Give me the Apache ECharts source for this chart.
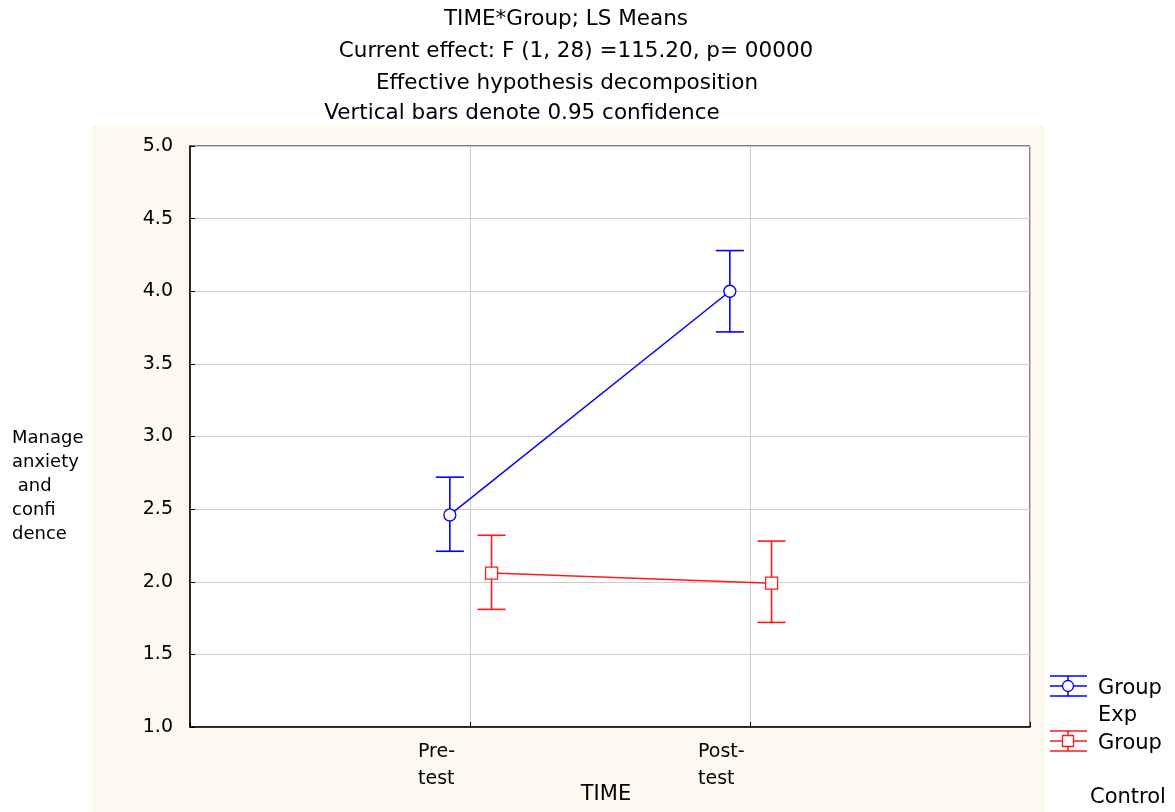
<!DOCTYPE html>
<html>
<head>
<meta charset="utf-8">
<script src="https://cdn.jsdelivr.net/npm/echarts@6/dist/echarts.min.js"></script>
<style>
  html, body { margin: 0; padding: 0; background: #fff; }
  #chart { width: 1175px; height: 812px; }
</style>
</head>
<body>
<div id="chart"></div>
<script>
// time points on the x axis (positions 1 and 2)
var categories = ['Pre-\ntest', 'Post-\ntest'];
var yTicks = [1.0, 1.5, 2.0, 2.5, 3.0, 3.5, 4.0, 4.5, 5.0];

// LS means and 0.95 confidence limits
var expMeans = [2.46, 4.00];
var expLow = [2.21, 3.72];
var expHigh = [2.72, 4.28];

var ctrlMeans = [2.06, 1.99];
var ctrlLow = [1.81, 1.72];
var ctrlHigh = [2.32, 2.28];

var font = '"DejaVu Sans", Verdana, sans-serif';
var BLUE = '#0000ff', RED = '#ff1a1a';
var EXP_SHIFT = -0.072, CTRL_SHIFT = 0.077;

function points(means, shift) {
    var out = [];
    for (var i = 0; i < means.length; i++) out.push([i + 1 + shift, means[i]]);
    return out;
}
function bars(low, high, shift) {
    var out = [];
    for (var i = 0; i < low.length; i++) out.push([i + 1 + shift, low[i], high[i]]);
    return out;
}

function errorBar(color) {
    return function (params, api) {
        var x = api.value(0);
        var lo = api.coord([x, api.value(1)]);
        var hi = api.coord([x, api.value(2)]);
        var half = 14;
        var style = { stroke: color, lineWidth: 1.6 };
        return {
            type: 'group',
            children: [
                { type: 'line', shape: { x1: lo[0], y1: lo[1], x2: hi[0], y2: hi[1] }, style: style },
                { type: 'line', shape: { x1: lo[0] - half, y1: lo[1], x2: lo[0] + half, y2: lo[1] }, style: style },
                { type: 'line', shape: { x1: hi[0] - half, y1: hi[1], x2: hi[0] + half, y2: hi[1] }, style: style }
            ]
        };
    };
}

function legendIcon(y, color, isCircle) {
    var st = { stroke: color, lineWidth: 1.5 };
    var kids = [
        { type: 'line', shape: { x1: 1050, y1: y - 10, x2: 1087, y2: y - 10 }, style: st },
        { type: 'line', shape: { x1: 1050, y1: y, x2: 1087, y2: y }, style: st },
        { type: 'line', shape: { x1: 1050, y1: y + 10, x2: 1087, y2: y + 10 }, style: st },
        { type: 'line', shape: { x1: 1068, y1: y - 10, x2: 1068, y2: y + 10 }, style: st }
    ];
    if (isCircle) {
        kids.push({ type: 'circle', shape: { cx: 1068, cy: y, r: 5.5 }, style: { fill: '#fff', stroke: color, lineWidth: 1.3 } });
    } else {
        kids.push({ type: 'rect', shape: { x: 1062.5, y: y - 5.5, width: 11, height: 11 }, style: { fill: '#fff', stroke: color, lineWidth: 1.3 } });
    }
    return { type: 'group', children: kids };
}

function txt(x, y, s, size, align) {
    return { type: 'text', x: x, y: y, style: { text: s, font: size + 'px ' + font, fill: '#000', align: align || 'left', verticalAlign: 'middle' } };
}

var chart = echarts.init(document.getElementById('chart'));

var option = {
    backgroundColor: '#fff',
    animation: false,
    graphic: [
        { type: 'rect', z: -10, shape: { x: 92, y: 125, width: 953, height: 687 }, style: { fill: '#fdf9ee' } },
        txt(566, 19, 'TIME*Group; LS Means', 21.5, 'center'),
        txt(576, 51, 'Current effect: F (1, 28) =115.20, p= 00000', 21.5, 'center'),
        txt(567, 83, 'Effective hypothesis decomposition', 21.5, 'center'),
        txt(522, 113, 'Vertical bars denote 0.95 confidence', 21.5, 'center'),
        txt(606, 795, 'TIME', 21, 'center'),
        {
            type: 'text', x: 12, y: 426,
            style: { text: 'Manage\nanxiety\n and\nconfi\ndence', font: '18px ' + font, fill: '#000', lineHeight: 24 }
        },
        legendIcon(686, BLUE, true),
        legendIcon(741, RED, false),
        txt(1098, 689, 'Group', 21),
        txt(1098, 716, 'Exp', 21),
        txt(1098, 744, 'Group', 21),
        txt(1090, 798, 'Control', 21)
    ],
    grid: {
        left: 190, right: 145, top: 146, bottom: 85,
        outerBoundsMode: 'none', containLabel: false,
        show: true, backgroundColor: '#fff', borderColor: '#000', borderWidth: 1
    },
    xAxis: {
        type: 'value', min: 0, max: 3, interval: 1,
        axisLine: { show: true, lineStyle: { color: '#000', width: 1.5 } },
        axisTick: { show: true, inside: true, length: 5, lineStyle: { color: '#000' } },
        splitLine: { show: true, lineStyle: { color: '#cccccc', width: 1 } },
        axisLabel: {
            margin: 12,
            formatter: function (v) {
                if (v === 1 || v === 2) {
                    var parts = categories[v - 1].split('\n');
                    return '{t|' + parts[0] + '}\n{t|' + parts[1] + '}';
                }
                return '';
            },
            rich: { t: { width: 104, align: 'left', fontFamily: font, fontSize: 19, color: '#000', lineHeight: 27 } }
        }
    },
    yAxis: {
        type: 'value', min: yTicks[0], max: yTicks[yTicks.length - 1], interval: 0.5,
        axisLine: { show: true, lineStyle: { color: '#000', width: 1.5 } },
        axisTick: { show: true, inside: true, length: 5, lineStyle: { color: '#000' } },
        splitLine: { show: true, lineStyle: { color: '#cccccc', width: 1 } },
        axisLabel: {
            margin: 17, fontFamily: font, fontSize: 19, color: '#000',
            formatter: function (v) { return v.toFixed(1); }
        }
    },
    series: [
        {
            type: 'custom', name: 'ExpBars', renderItem: errorBar(BLUE),
            data: bars(expLow, expHigh, EXP_SHIFT), z: 2, silent: true
        },
        {
            type: 'custom', name: 'CtrlBars', renderItem: errorBar(RED),
            data: bars(ctrlLow, ctrlHigh, CTRL_SHIFT), z: 2, silent: true
        },
        {
            type: 'line', name: 'Group Exp', data: points(expMeans, EXP_SHIFT), z: 3,
            symbol: 'circle', symbolSize: 12, showAllSymbol: true,
            lineStyle: { color: BLUE, width: 1.5 },
            itemStyle: { color: '#fff', borderColor: BLUE, borderWidth: 1.3 }
        },
        {
            type: 'line', name: 'Group Control', data: points(ctrlMeans, CTRL_SHIFT), z: 3,
            symbol: 'rect', symbolSize: 12, showAllSymbol: true,
            lineStyle: { color: RED, width: 1.5 },
            itemStyle: { color: '#fff', borderColor: RED, borderWidth: 1.3 }
        }
    ]
};

chart.setOption(option);
</script>
</body>
</html>
